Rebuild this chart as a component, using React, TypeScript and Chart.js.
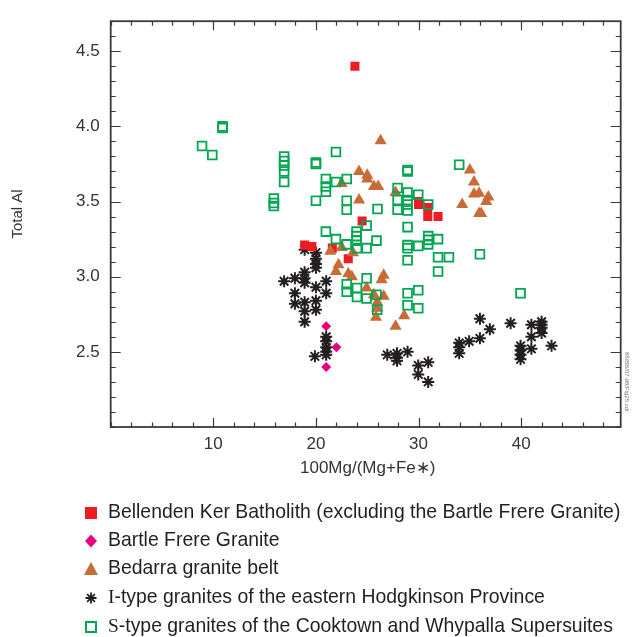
import { useEffect, useRef } from 'react';
import { Chart, registerables } from 'chart.js';

Chart.register(...registerables);

// ---- Data ----
const bkX = [23.8, 30.0, 30.0, 30.9, 30.9, 31.9, 24.5, 21.6, 23.15, 18.9, 19.6];
const bkY = [4.40, 3.50, 3.48, 3.46, 3.40, 3.40, 3.37, 3.19, 3.12, 3.21, 3.20];

const bfX = [21.0, 22.0, 21.0, 21.0];
const bfY = [2.67, 2.53, 2.40, 2.52];

const bdX = [26.3, 24.2, 25.0, 25.0, 22.5, 25.65, 26.07, 24.2, 27.76, 35.0, 35.4, 35.4, 35.9, 36.8, 34.25, 36.6, 35.9, 36.1,
  21.4, 22.5, 23.6, 22.2, 21.95, 23.15, 23.5, 26.6, 26.4, 24.94, 25.65, 26.6, 25.97, 25.97, 25.85, 28.6, 27.76];
const bdY = [3.905, 3.70, 3.675, 3.65, 3.62, 3.60, 3.60, 3.51, 3.56, 3.71, 3.63, 3.55, 3.555, 3.53, 3.48, 3.50, 3.42, 3.42,
  3.17, 3.195, 3.16, 3.08, 3.035, 3.02, 3.00, 3.01, 2.98, 2.925, 2.88, 2.87, 2.83, 2.79, 2.73, 2.74, 2.67];

const itX = [18.9, 20, 20, 20, 20, 18.9, 18.9, 18.9, 17.95, 16.9, 20, 17.95, 17.95, 18.9, 18.9, 18.9, 20, 20, 19.9,
  21, 21, 21, 21, 21, 21, 21, 26.95, 27.9, 27.9, 27.9, 28.93, 29.97, 29.97, 30.94, 30.94, 33.96, 33.96, 33.96, 34.93,
  35.98, 35.98, 36.95, 38.97, 39.94, 39.94, 39.94, 39.94, 41.0, 41.0, 41.0, 41.99, 41.99, 41.99, 41.99, 42.96];
const itY = [3.18, 3.16, 3.12, 3.085, 3.06, 3.03, 2.99, 2.96, 2.99, 2.97, 2.93, 2.89, 2.82, 2.83, 2.77, 2.70, 2.84, 2.78, 2.47,
  2.97, 2.89, 2.60, 2.57, 2.53, 2.50, 2.48, 2.48, 2.49, 2.46, 2.44, 2.50, 2.41, 2.35, 2.43, 2.30, 2.56, 2.53, 2.49, 2.57,
  2.59, 2.72, 2.65, 2.69, 2.54, 2.51, 2.48, 2.45, 2.68, 2.60, 2.52, 2.70, 2.68, 2.66, 2.625, 2.54];

const stX = [10.9, 10.9, 8.9, 9.9, 16.9, 16.9, 16.9, 16.9, 16.9, 20, 20, 20, 15.9, 15.9, 15.9,
  21.95, 28.93, 28.93, 33.96, 20.97, 20.97, 20.97, 21.95, 23, 23, 23, 26, 27.96, 27.96, 27.96, 28.93, 28.93, 28.93, 28.93, 29.97, 30.94,
  20.97, 21.95, 23.96, 23.96, 23.96, 23, 24.94, 24.94, 25.9, 24, 28.93, 28.93, 28.93, 29.97, 30.94, 30.94, 30.94, 31.9, 28.93, 31.9, 32.96,
  35.98, 31.9, 24.94, 23, 23, 24, 24, 24.94, 25.9, 25.97, 28.93, 29.97, 28.93, 29.97, 39.94];
const stY = [4.00, 3.99, 3.87, 3.81, 3.80, 3.77, 3.74, 3.70, 3.63, 3.75, 3.76, 3.505, 3.52, 3.49, 3.47,
  3.83, 3.70, 3.71, 3.745, 3.65, 3.60, 3.565, 3.63, 3.65, 3.505, 3.445, 3.45, 3.59, 3.51, 3.445, 3.56, 3.51, 3.48, 3.44, 3.545, 3.48,
  3.30, 3.25, 3.30, 3.27, 3.24, 3.215, 3.34, 3.19, 3.24, 3.19, 3.33, 3.21, 3.19, 3.205, 3.27, 3.245, 3.215, 3.25, 3.11, 3.13, 3.13,
  3.15, 3.035, 2.99, 2.95, 2.90, 2.925, 2.865, 2.855, 2.88, 2.78, 2.89, 2.91, 2.81, 2.79, 2.89];

const xTickLabels = [10, 20, 30, 40];
const yTickLabels = [2.5, 3.0, 3.5, 4.0, 4.5];

const legendLabels = [
  'Bellenden Ker Batholith (excluding the Bartle Frere Granite)',
  'Bartle Frere Granite',
  'Bedarra granite belt',
  'I-type granites of the eastern Hodgkinson Province',
  'S-type granites of the Cooktown and Whypalla Supersuites',
];

const RED = '#ed1c24';
const MAGENTA = '#e6007e';
const BROWN = '#c96b36';
const BLACK = '#231f20';
const GREEN = '#00a651';
const SANS = "'Liberation Sans', Arial, Helvetica, sans-serif";
const SERIF = "'Liberation Serif', 'Times New Roman', serif";

function pts(xs: number[], ys: number[]) {
  return xs.map((x, i) => ({ x, y: ys[i] }));
}

function isLabelX(v: number) {
  return xTickLabels.some((t) => Math.abs(t - v) < 1e-6);
}
function isLabelY(v: number) {
  return yTickLabels.some((t) => Math.abs(t - v) < 1e-6);
}

export default function App() {
  const ref = useRef<HTMLCanvasElement>(null);

  useEffect(() => {
    document.body.style.margin = '0';
    const canvas = ref.current;
    if (!canvas) return;

    const framePlugin = {
      id: 'frame',
      beforeDatasetsDraw(chart: any) {
        const { ctx, chartArea: a } = chart;
        const xs = chart.scales.x;
        const ys = chart.scales.y;
        ctx.save();
        ctx.strokeStyle = '#3a3a3a';
        ctx.lineWidth = 1.2;
        ctx.beginPath();
        xs.ticks.forEach((t: any) => {
          const px = Math.round(xs.getPixelForValue(t.value)) + 0.5;
          const L = isLabelX(t.value) ? 9 : 4.5;
          ctx.moveTo(px, a.bottom);
          ctx.lineTo(px, a.bottom - L);
          ctx.moveTo(px, a.top);
          ctx.lineTo(px, a.top + L);
        });
        ys.ticks.forEach((t: any) => {
          const py = Math.round(ys.getPixelForValue(t.value)) + 0.5;
          const L = isLabelY(t.value) ? 10 : 5;
          ctx.moveTo(a.left, py);
          ctx.lineTo(a.left + L, py);
          ctx.moveTo(a.right, py);
          ctx.lineTo(a.right - L, py);
        });
        ctx.stroke();
        ctx.lineWidth = 1.8;
        ctx.strokeRect(a.left, a.top, a.right - a.left, a.bottom - a.top);
        ctx.restore();
      },
      afterDraw(chart: any) {
        const { ctx, chartArea: a } = chart;
        ctx.save();
        // axis titles
        ctx.fillStyle = '#333';
        ctx.textAlign = 'center';
        ctx.textBaseline = 'middle';
        ctx.font = `15px ${SANS}`;
        ctx.save();
        ctx.translate(18, 214);
        ctx.rotate(-Math.PI / 2);
        ctx.fillText('Total Al', 0, 0);
        ctx.restore();
        ctx.font = `17px ${SANS}`;
        ctx.fillText('100Mg/(Mg+Fe\u2217)', (a.left + a.right) / 2 + 2, 468);

        // side note
        ctx.save();
        ctx.fillStyle = '#777';
        ctx.font = `6px ${SANS}`;
        ctx.translate(a.right + 6, 382);
        ctx.rotate(Math.PI / 2);
        ctx.fillText('88/BB/07-98/Fig25.cdr', 0, 0);
        ctx.restore();

        // legend
        ctx.font = `100px ${SANS}`;
        const w100 = ctx.measureText(legendLabels[0]).width;
        const fs = (513 / w100) * 100;
        const tx = 108;
        const rowY = [513, 541, 569, 598, 627];
        ctx.textAlign = 'left';
        legendLabels.forEach((lab, i) => {
          const cy = rowY[i];
          const cx = 91;
          ctx.save();
          if (i === 0) {
            ctx.fillStyle = RED;
            ctx.fillRect(cx - 6, cy - 6, 12, 12);
          } else if (i === 1) {
            ctx.fillStyle = MAGENTA;
            ctx.beginPath();
            ctx.moveTo(cx, cy - 6.5);
            ctx.lineTo(cx + 6, cy);
            ctx.lineTo(cx, cy + 6.5);
            ctx.lineTo(cx - 6, cy);
            ctx.closePath();
            ctx.fill();
          } else if (i === 2) {
            ctx.fillStyle = BROWN;
            ctx.beginPath();
            ctx.moveTo(cx, cy - 7);
            ctx.lineTo(cx + 7, cy + 6);
            ctx.lineTo(cx - 7, cy + 6);
            ctx.closePath();
            ctx.fill();
          } else if (i === 3) {
            ctx.strokeStyle = BLACK;
            ctx.lineWidth = 1.8;
            ctx.beginPath();
            const r = 5.5;
            for (let k = 0; k < 4; k++) {
              const ang = (k * Math.PI) / 4;
              ctx.moveTo(cx - r * Math.cos(ang), cy - r * Math.sin(ang));
              ctx.lineTo(cx + r * Math.cos(ang), cy + r * Math.sin(ang));
            }
            ctx.stroke();
          } else {
            ctx.strokeStyle = GREEN;
            ctx.lineWidth = 2;
            ctx.strokeRect(cx - 5, cy - 5, 10, 10);
          }
          ctx.restore();
          ctx.fillStyle = '#231f20';
          if (i === 3 || i === 4) {
            const first = lab.charAt(0);
            const rest = lab.slice(1);
            ctx.font = `${fs}px ${SERIF}`;
            ctx.fillText(first, tx, cy);
            const fw = ctx.measureText(first).width;
            ctx.font = `${fs}px ${SANS}`;
            ctx.fillText(rest, tx + fw, cy);
          } else {
            ctx.font = `${fs}px ${SANS}`;
            ctx.fillText(lab, tx, cy);
          }
        });
        ctx.restore();
      },
    };

    const chart = new Chart(canvas, {
      type: 'scatter',
      data: {
        datasets: [
          {
            label: legendLabels[4],
            data: pts(stX, stY),
            pointStyle: 'rect',
            pointRadius: 6.2,
            pointBorderWidth: 1.8,
            borderColor: GREEN,
            backgroundColor: 'rgba(255,255,255,0)',
          },
          {
            label: legendLabels[2],
            data: pts(bdX, bdY),
            pointStyle: 'triangle',
            pointRadius: 7,
            pointBorderWidth: 0,
            borderColor: BROWN,
            backgroundColor: BROWN,
          },
          {
            label: legendLabels[0],
            data: pts(bkX, bkY),
            pointStyle: 'rect',
            pointRadius: 6.4,
            pointBorderWidth: 0,
            borderColor: RED,
            backgroundColor: RED,
          },
          {
            label: legendLabels[3],
            data: pts(itX, itY),
            pointStyle: 'star',
            pointRadius: 6,
            pointBorderWidth: 2,
            borderColor: BLACK,
            backgroundColor: BLACK,
          },
          {
            label: legendLabels[1],
            data: pts(bfX, bfY),
            pointStyle: 'rectRot',
            pointRadius: 5,
            pointBorderWidth: 0,
            borderColor: MAGENTA,
            backgroundColor: MAGENTA,
          },
        ],
      },
      options: {
        responsive: false,
        animation: false,
        events: [],
        layout: { padding: { left: 0, right: 11.3, top: 15.3, bottom: 0 } },
        plugins: { legend: { display: false }, tooltip: { enabled: false } },
        scales: {
          x: {
            type: 'linear',
            min: 0,
            max: 49.7,
            afterFit: (s: any) => {
              s.height = 210;
            },
            grid: { display: false, drawTicks: false },
            border: { display: false },
            ticks: {
              stepSize: 2,
              autoSkip: false,
              includeBounds: false,
              maxRotation: 0,
              padding: 7,
              color: '#333',
              font: { family: SANS, size: 17 },
              callback: (v: any) => (isLabelX(Number(v)) ? String(v) : ''),
            },
          },
          y: {
            type: 'linear',
            min: 2,
            max: 4.7,
            afterFit: (s: any) => {
              s.width = 110.7;
            },
            grid: { display: false, drawTicks: false },
            border: { display: false },
            ticks: {
              stepSize: 0.1,
              autoSkip: false,
              includeBounds: false,
              padding: 11,
              color: '#333',
              font: { family: SANS, size: 17 },
              callback: (v: any) => (isLabelY(Number(v)) ? Number(v).toFixed(1) : ''),
            },
          },
        },
      },
      plugins: [framePlugin],
    });

    return () => {
      chart.destroy();
    };
  }, []);

  return <canvas ref={ref} width={632} height={637} style={{ display: 'block' }} />;
}
